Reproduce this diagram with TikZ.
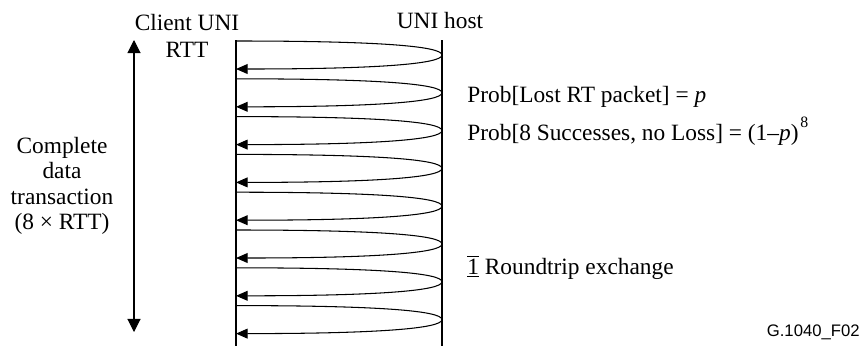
\documentclass[tikz,border=0pt]{standalone}
\usepackage{fontspec}
\setmainfont{Liberation Serif}
\newfontfamily\labelfont{Liberation Sans}
\usetikzlibrary{arrows.meta}
\tikzset{
	txt/.style={font=\fontsize{13.3}{14.5}\selectfont,inner sep=0pt},
	loopline/.style={line width=0.6pt,-{Triangle[length=6.6pt,width=5.6pt]}},
	timeline/.style={line width=0.6pt},
}
\begin{document}
\begin{tikzpicture}[x=0.02cm,y=-0.02cm]
	\useasboundingbox (0,0) rectangle (868,349);
	% the two sides
	\coordinate (cTop) at (236,40);
	\coordinate (cBot) at (236,346);
	\coordinate (hTop) at (442,40);
	\coordinate (hBot) at (442,346);
	\draw[timeline] (cTop) -- (cBot);
	\draw[timeline] (hTop) -- (hBot);
	\node[txt,anchor=base] (client) at (187,30) {Client UNI};
	\node[txt,anchor=base] (rtt) at (187,57) {RTT};
	\node[txt,anchor=base] (host) at (440,28) {UNI host};
	% eight round trips
	\foreach \i in {0,...,7}{
		\pgfmathsetmacro{\yy}{41+37.8*\i}
		\coordinate (s\i) at (236,\yy);
		\coordinate (r\i) at (442,\yy+14);
		\coordinate (e\i) at (236,\yy+28);
		\draw[loopline] (s\i) .. controls +(140,0) and +(0,-9) .. (r\i)
			.. controls +(0,9) and +(140,0) .. (e\i);
	}
	% whole transaction
	\coordinate (aTop) at (134,40);
	\coordinate (aBot) at (134,332);
	\draw[timeline,{Triangle[length=7.5pt,width=7.5pt]}-{Triangle[length=7.5pt,width=7.5pt]}] (aTop) -- (aBot);
	\node[txt,align=center] (trans) at (62,186) {Complete\\ data\\ transaction\\ (8 × RTT)};
	% notes
	\node[txt,anchor=base west] (plost) at (467,102) {Prob[Lost RT packet] = \textit{p}};
	\node[txt,anchor=base west] (psucc) at (467,140) {Prob[8 Successes, no Loss] = (1–\textit{p})\raisebox{1.2ex}{\kern1pt\fontsize{9}{10}\selectfont 8}};
	\node[txt,anchor=base west] (one) at (467,274) {\(\overline{\underline{\hbox{1}}}\) Roundtrip exchange};
	\node[font=\labelfont\fontsize{9.5}{11}\selectfont,inner sep=0pt,anchor=base east] (fig) at (860,336) {G.1040\_F02};
\end{tikzpicture}
\end{document}
